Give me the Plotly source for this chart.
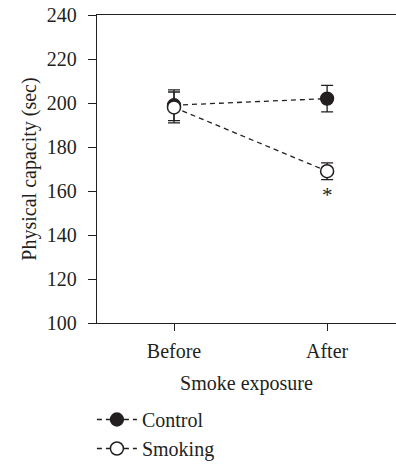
import plotly.graph_objects as go

categories = ["Before", "After"]
control_mean = [199, 202]
control_err = [7, 6]
smoking_mean = [198, 169]
smoking_err = [7, 3.8]
y_ticks = [100, 120, 140, 160, 180, 200, 220, 240]
star_pos = ("After", 158)

ink = "#231f20"
font_family = "Liberation Serif, Times New Roman, serif"
fs = 20

fig = go.Figure()
fig.add_trace(go.Scatter(
    x=categories, y=control_mean, name="Control", mode="lines+markers",
    line=dict(color=ink, width=1.3, dash="5px,4px"),
    marker=dict(symbol="circle", size=13, color=ink, line=dict(color=ink, width=1.3)),
    error_y=dict(type="data", array=control_err, visible=True, color=ink, thickness=1.3, width=6),
))
fig.add_trace(go.Scatter(
    x=categories, y=smoking_mean, name="Smoking", mode="lines+markers",
    line=dict(color=ink, width=1.3, dash="5px,4px"),
    marker=dict(symbol="circle", size=13, color="white", line=dict(color=ink, width=1.5)),
    error_y=dict(type="data", array=smoking_err, visible=True, color=ink, thickness=1.3, width=6),
))
fig.add_annotation(x=star_pos[0], y=star_pos[1], text="*", showarrow=False,
                   font=dict(size=21, color=ink, family=font_family))

fig.update_layout(
    width=396, height=466,
    margin=dict(l=97, r=0, t=15, b=143, autoexpand=False),
    paper_bgcolor="white", plot_bgcolor="white",
    font=dict(family=font_family, size=fs, color=ink),
    showlegend=True,
    legend=dict(x=-0.017, y=-0.25, xanchor="left", yanchor="top", itemwidth=40,
                font=dict(size=fs, color=ink), bgcolor="rgba(0,0,0,0)"),
    xaxis=dict(
        type="category", range=[-0.503, 1.45], automargin=False,
        showline=True, linecolor=ink, linewidth=1.3, mirror=True,
        ticks="outside", ticklen=7, tickwidth=1.3, tickcolor=ink,
        showgrid=False, zeroline=False,
        title=dict(text="Smoke exposure", standoff=14, font=dict(size=fs)),
        tickfont=dict(size=fs), ticklabelstandoff=3,
    ),
    yaxis=dict(
        range=[100, 240], tickvals=y_ticks, automargin=False,
        showline=True, linecolor=ink, linewidth=1.3,
        ticks="outside", ticklen=8, tickwidth=1.3, tickcolor=ink,
        showgrid=False, zeroline=False,
        title=dict(text="Physical capacity (sec)", standoff=4, font=dict(size=fs)),
        tickfont=dict(size=fs), ticklabelstandoff=7,
    ),
)

fig.write_html("out.html", config={"displayModeBar": False},
               post_script="document.body.style.margin='0';document.body.style.overflow='hidden';")
